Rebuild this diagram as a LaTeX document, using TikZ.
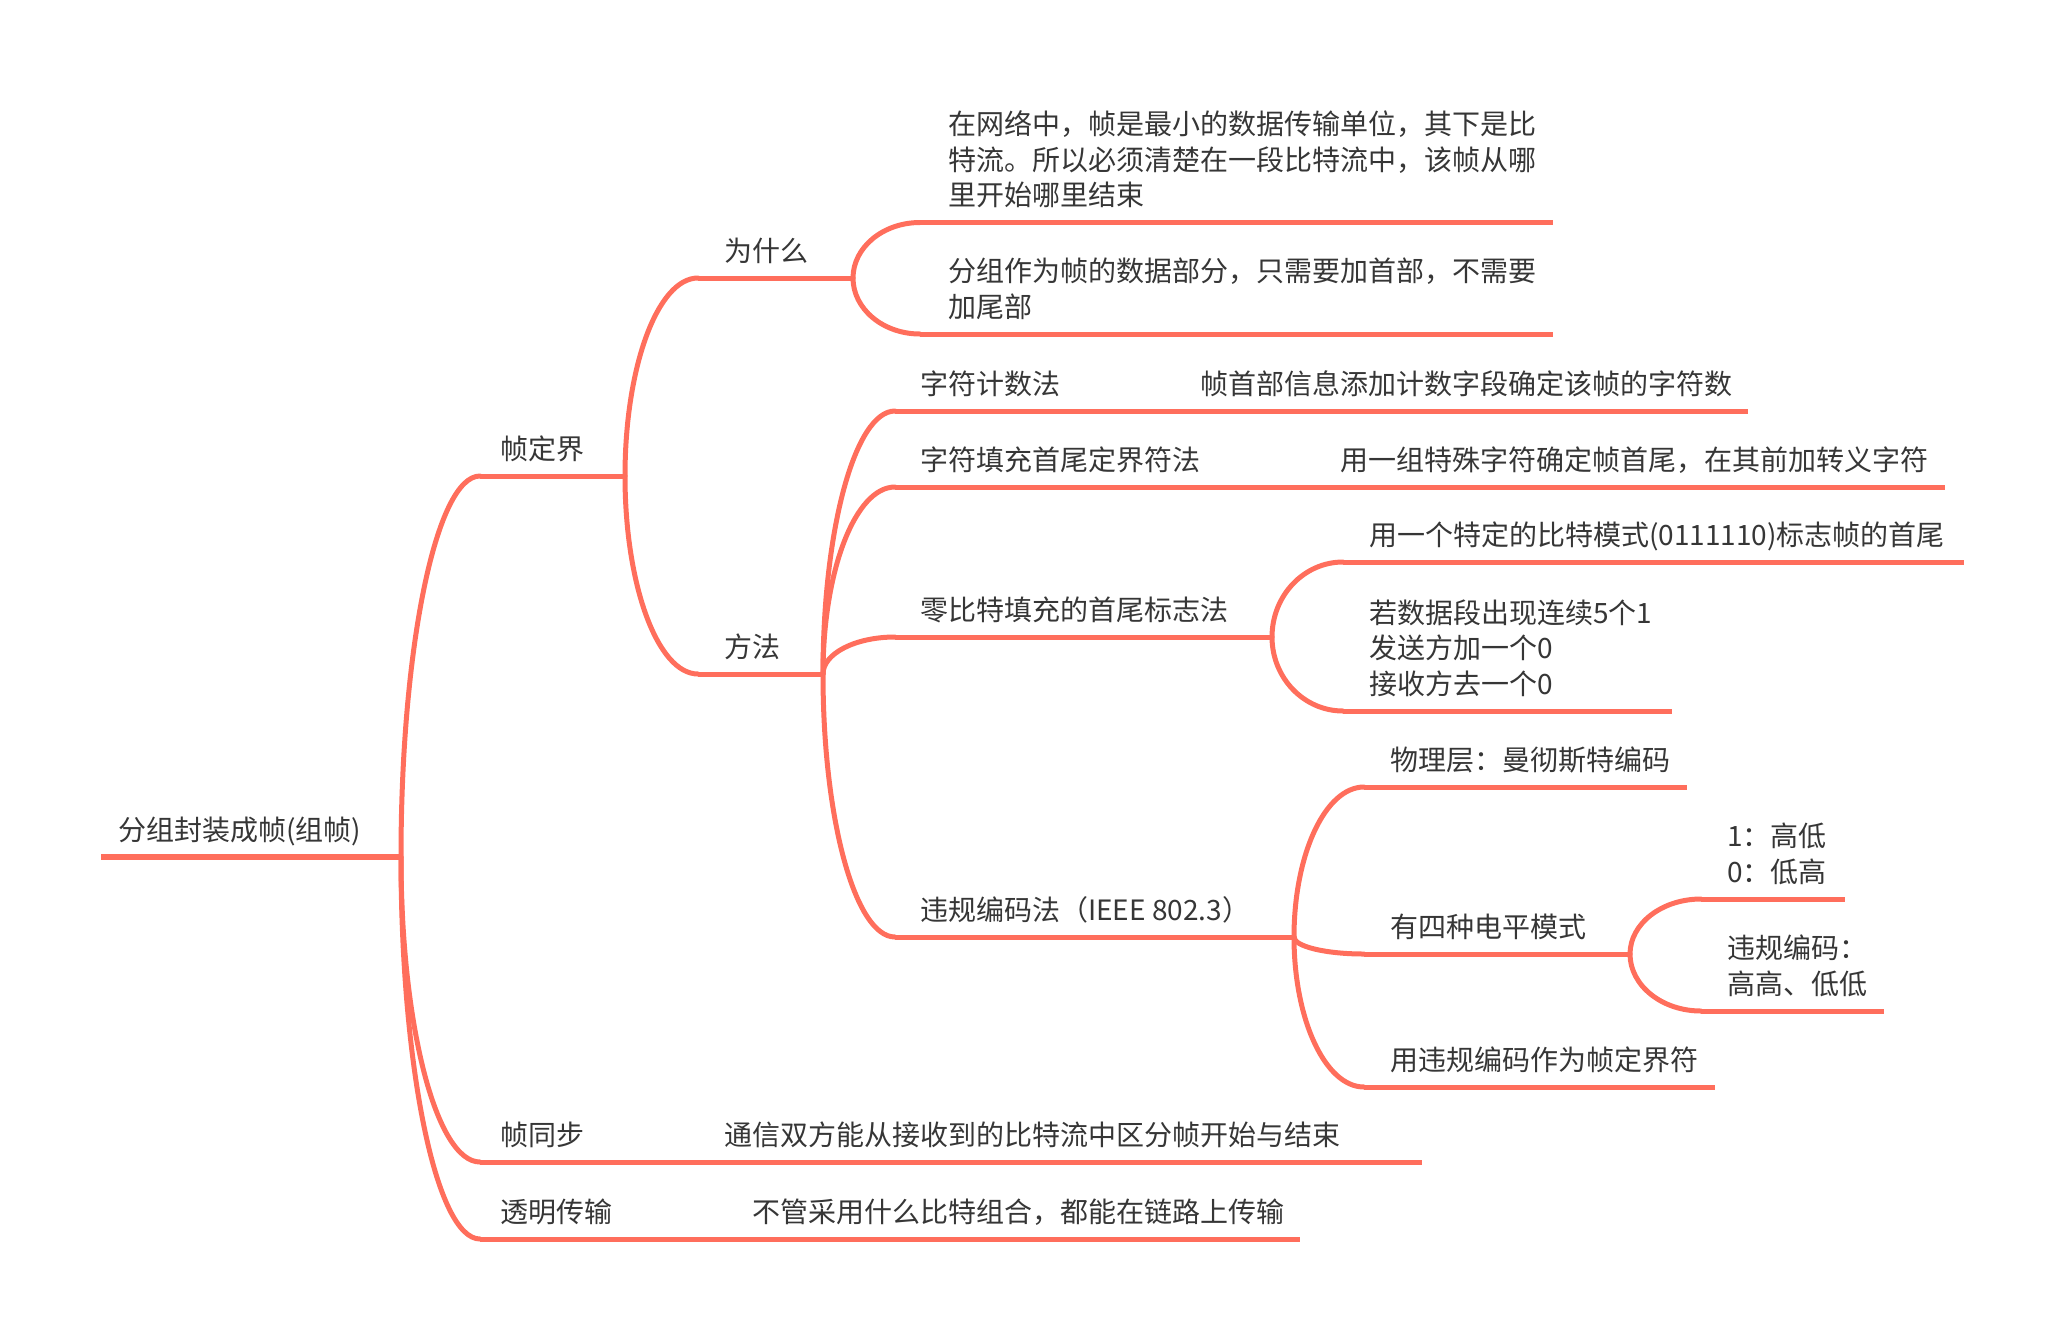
\documentclass[tikz,border=0pt]{standalone}
\usepackage{fontspec}
\newfontfamily\cjk{Noto Sans CJK SC}
\usetikzlibrary{calc}
\definecolor{branchc}{HTML}{FF6E5C}
\definecolor{textc}{HTML}{363636}
\newcommand\mlines[1]{\vbox{\baselineskip=35.5pt\lineskiplimit=-100pt\lineskip=0pt #1}}
\newcommand\conn[2]{\draw[curvestyle] (#1) .. controls ($(#1)!0.552!(#1|-#2)$) and ($(#2)!0.552!(#1|-#2)$) .. (#2);}
\newcommand\uline[2]{\draw[ulstyle] (#1) -- (#2);}
\begin{document}
\begin{tikzpicture}[x=1pt,y=-1pt,
  txt/.style={anchor=base west, inner sep=0pt, text=textc, font=\cjk\fontsize{28}{35.5}\selectfont},
  ulstyle/.style={draw=branchc, line width=5pt},
  curvestyle/.style={draw=branchc, line width=5pt, line cap=round}]
\useasboundingbox (0,0) rectangle (2064,1342);

% root
\node[txt] (root) at (118,840) {分组封装成帧(组帧)};
\coordinate (root-s) at (101,857); \coordinate (root-e) at (401,857);
\draw[ulstyle, line width=6pt] (root-s) -- (root-e);

% level 1
\coordinate (zdj-s) at (480,476); \coordinate (zdj-e) at (625,476);
\node[txt] (zdj) at (500,459) {帧定界};
\uline{zdj-s}{zdj-e}
\conn{root-e}{zdj-s}

\coordinate (ztb-s) at (480,1162); \coordinate (ztb-e) at (700,1162);
\node[txt] (ztb) at (500,1145) {帧同步};
\uline{ztb-s}{ztb-e}
\conn{root-e}{ztb-s}
\coordinate (ztbc-e) at (1422,1162);
\node[txt] (ztbc) at (724,1145) {通信双方能从接收到的比特流中区分帧开始与结束};
\uline{ztb-e}{ztbc-e}

\coordinate (tm-s) at (480,1239); \coordinate (tm-e) at (728,1239);
\node[txt] (tm) at (500,1222) {透明传输};
\uline{tm-s}{tm-e}
\conn{root-e}{tm-s}
\coordinate (tmc-e) at (1300,1239);
\node[txt] (tmc) at (752,1222) {不管采用什么比特组合，都能在链路上传输};
\uline{tm-e}{tmc-e}

% level 2
\coordinate (wsm-s) at (698,278); \coordinate (wsm-e) at (853,278);
\node[txt] (wsm) at (724,261) {为什么};
\uline{wsm-s}{wsm-e}
\conn{zdj-e}{wsm-s}

\coordinate (ff-s) at (698,674); \coordinate (ff-e) at (823,674);
\node[txt] (ff) at (724,657) {方法};
\uline{ff-s}{ff-e}
\conn{zdj-e}{ff-s}

% why children
\coordinate (w1-s) at (920,222.5); \coordinate (w1-e) at (1553,222.5);
\node[txt] (w1) at (948,205.5) {\mlines{\hbox{在网络中，帧是最小的数据传输单位，其下是比}\hbox{特流。所以必须清楚在一段比特流中，该帧从哪}\hbox{里开始哪里结束}}};
\uline{w1-s}{w1-e}
\conn{wsm-e}{w1-s}

\coordinate (w2-s) at (920,334); \coordinate (w2-e) at (1553,334);
\node[txt] (w2) at (948,317) {\mlines{\hbox{分组作为帧的数据部分，只需要加首部，不需要}\hbox{加尾部}}};
\uline{w2-s}{w2-e}
\conn{wsm-e}{w2-s}

% method children
\coordinate (m1-s) at (895,411); \coordinate (m1-e) at (1176,411);
\node[txt] (m1) at (920,394) {字符计数法};
\uline{m1-s}{m1-e}
\conn{ff-e}{m1-s}
\coordinate (m1c-e) at (1748,411);
\node[txt] (m1c) at (1200,394) {帧首部信息添加计数字段确定该帧的字符数};
\uline{m1-e}{m1c-e}

\coordinate (m2-s) at (895,487); \coordinate (m2-e) at (1316,487);
\node[txt] (m2) at (920,470) {字符填充首尾定界符法};
\uline{m2-s}{m2-e}
\conn{ff-e}{m2-s}
\coordinate (m2c-e) at (1945,487);
\node[txt] (m2c) at (1340,470) {用一组特殊字符确定帧首尾，在其前加转义字符};
\uline{m2-e}{m2c-e}

\coordinate (m3-s) at (895,637); \coordinate (m3-e) at (1272,637);
\node[txt] (m3) at (920,620) {零比特填充的首尾标志法};
\uline{m3-s}{m3-e}
\conn{ff-e}{m3-s}

\coordinate (m4-s) at (895,937); \coordinate (m4-e) at (1294,937);
\node[txt] (m4) at (920,920) {违规编码法（IEEE 802.3）};
\uline{m4-s}{m4-e}
\conn{ff-e}{m4-s}

% zero-bit children
\coordinate (z1-s) at (1343,562); \coordinate (z1-e) at (1964,562);
\node[txt] (z1) at (1369,545) {用一个特定的比特模式(0111110)标志帧的首尾};
\uline{z1-s}{z1-e}
\conn{m3-e}{z1-s}

\coordinate (z2-s) at (1343,711); \coordinate (z2-e) at (1672,711);
\node[txt] (z2) at (1369,694) {\mlines{\hbox{若数据段出现连续5个1}\hbox{发送方加一个0}\hbox{接收方去一个0}}};
\uline{z2-s}{z2-e}
\conn{m3-e}{z2-s}

% violation coding children
\coordinate (v1-s) at (1364,787); \coordinate (v1-e) at (1687,787);
\node[txt] (v1) at (1390,770) {物理层：曼彻斯特编码};
\uline{v1-s}{v1-e}
\conn{m4-e}{v1-s}

\coordinate (v2-s) at (1364,954); \coordinate (v2-e) at (1630,954);
\node[txt] (v2) at (1390,937) {有四种电平模式};
\uline{v2-s}{v2-e}
\conn{m4-e}{v2-s}

\coordinate (v3-s) at (1364,1087); \coordinate (v3-e) at (1715,1087);
\node[txt] (v3) at (1390,1070) {用违规编码作为帧定界符};
\uline{v3-s}{v3-e}
\conn{m4-e}{v3-s}

% four-level children
\coordinate (f1-s) at (1701,899); \coordinate (f1-e) at (1845,899);
\node[txt] (f1) at (1727,882) {\mlines{\hbox{1：高低}\hbox{0：低高}}};
\uline{f1-s}{f1-e}
\conn{v2-e}{f1-s}

\coordinate (f2-s) at (1701,1011); \coordinate (f2-e) at (1884,1011);
\node[txt] (f2) at (1727,994) {\mlines{\hbox{违规编码：}\hbox{高高、低低}}};
\uline{f2-s}{f2-e}
\conn{v2-e}{f2-s}
\end{tikzpicture}
\end{document}
